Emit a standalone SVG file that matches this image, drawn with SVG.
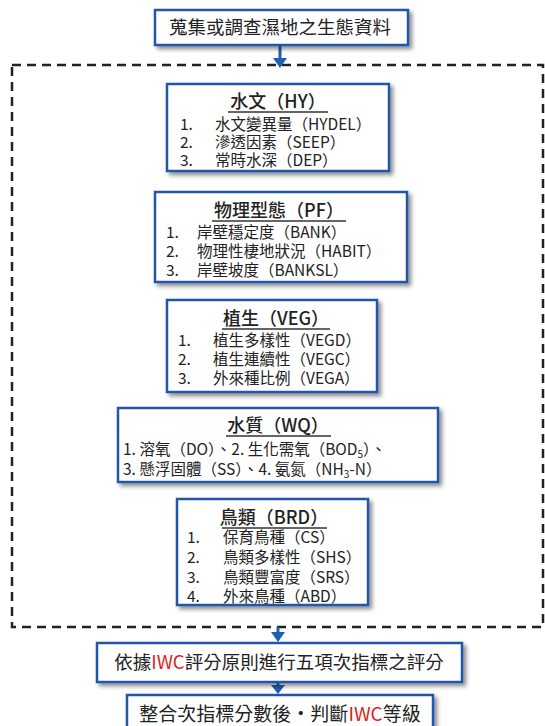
<svg xmlns="http://www.w3.org/2000/svg" width="545" height="726" viewBox="0 0 545 726">
<defs>
<filter id="sh" x="-10%" y="-10%" width="125%" height="140%">
<feDropShadow dx="3" dy="3" stdDeviation="2" flood-color="#000" flood-opacity="0.45"/>
</filter>
<style>
.box{fill:#fff;stroke:#2457a8;stroke-width:2.5;filter:url(#sh)}
.t{font-family:"Noto Sans CJK TC","Noto Sans",sans-serif;fill:#222}
.ti{font-size:18px;text-anchor:middle;font-weight:500}
.it{font-size:15.5px}
.ul{stroke:#333;stroke-width:1.3}
.red{fill:#e02020}
.con{stroke:#1f5fb0;stroke-width:3;fill:none}
.hd{fill:#1f5fb0}
</style>
</defs>
<rect x="12" y="65" width="531" height="562" fill="none" stroke="#222" stroke-width="2.5" stroke-dasharray="9,6"/>

<g id="connectors">
<line class="con" x1="280" y1="46" x2="280" y2="60"/>
<path class="hd" d="M273,58 L287,58 L280,68 Z"/>
<line class="con" x1="278" y1="627" x2="278" y2="634"/>
<path class="hd" d="M271,632 L285,632 L278,642 Z"/>
<line class="con" x1="278" y1="683" x2="278" y2="686"/>
<path class="hd" d="M271,685 L285,685 L278,694 Z"/>
</g>

<g id="start">
<rect class="box" x="155" y="10" width="253" height="35"/>
<text class="t" x="280" y="34" font-size="18.5" text-anchor="middle">蒐集或調查濕地之生態資料</text>
</g>

<g id="hy">
<rect class="box" x="167" y="84" width="222" height="87"/>
<text class="t ti" x="278" y="108">水文（HY）</text>
<line class="ul" x1="228" y1="112" x2="328" y2="112"/>
<text class="t it" x="180" y="130">1.</text><text class="t it" x="215" y="130">水文變異量（HYDEL）</text>
<text class="t it" x="180" y="148">2.</text><text class="t it" x="215" y="148">滲透因素（SEEP）</text>
<text class="t it" x="180" y="166">3.</text><text class="t it" x="215" y="166">常時水深（DEP）</text>
</g>

<g id="pf">
<rect class="box" x="155" y="192" width="252" height="90"/>
<text class="t ti" x="279" y="217">物理型態（PF）</text>
<line class="ul" x1="212" y1="221" x2="346" y2="221"/>
<text class="t it" x="166" y="238">1.</text><text class="t it" x="197" y="238">岸壁穩定度（BANK）</text>
<text class="t it" x="166" y="257">2.</text><text class="t it" x="197" y="257">物理性棲地狀況（HABIT）</text>
<text class="t it" x="166" y="276">3.</text><text class="t it" x="197" y="276">岸壁坡度（BANKSL）</text>
</g>

<g id="veg">
<rect class="box" x="167" y="300" width="210" height="92"/>
<text class="t ti" x="276" y="325">植生（VEG）</text>
<line class="ul" x1="222" y1="329" x2="330" y2="329"/>
<text class="t it" x="178" y="346">1.</text><text class="t it" x="213" y="346">植生多樣性（VEGD）</text>
<text class="t it" x="178" y="365">2.</text><text class="t it" x="213" y="365">植生連續性（VEGC）</text>
<text class="t it" x="178" y="384">3.</text><text class="t it" x="213" y="384">外來種比例（VEGA）</text>
</g>

<g id="wq">
<rect class="box" x="118" y="408" width="320" height="74"/>
<text class="t ti" x="278" y="432">水質（WQ）</text>
<line class="ul" x1="226" y1="436" x2="331" y2="436"/>
<text class="t it" x="123" y="455">1. 溶氧（DO）、2. 生化需氧（BOD<tspan font-size="10" dy="3">5</tspan><tspan dy="-3">）、</tspan></text>
<text class="t it" x="123" y="475">3. 懸浮固體（SS）、4. 氨氮（NH<tspan font-size="10" dy="3">3</tspan><tspan dy="-3">-N）</tspan></text>
</g>

<g id="brd">
<rect class="box" x="177" y="499" width="191" height="106"/>
<text class="t ti" x="274" y="524">鳥類（BRD）</text>
<line class="ul" x1="222" y1="528" x2="327" y2="528"/>
<text class="t it" x="187" y="543">1.</text><text class="t it" x="223" y="543">保育鳥種（CS）</text>
<text class="t it" x="187" y="563">2.</text><text class="t it" x="223" y="563">鳥類多樣性（SHS）</text>
<text class="t it" x="187" y="583">3.</text><text class="t it" x="223" y="583">鳥類豐富度（SRS）</text>
<text class="t it" x="187" y="602">4.</text><text class="t it" x="223" y="602">外來鳥種（ABD）</text>
</g>

<g id="score">
<rect class="box" x="97" y="643" width="365" height="39"/>
<text class="t" x="279" y="669" font-size="18.5" text-anchor="middle">依據<tspan class="red">IWC</tspan>評分原則進行五項次指標之評分</text>
</g>

<g id="grade">
<rect class="box" x="127" y="695" width="306" height="40"/>
<text class="t" x="280" y="721" font-size="19" text-anchor="middle">整合次指標分數後・判斷<tspan class="red">IWC</tspan>等級</text>
</g>
</svg>
